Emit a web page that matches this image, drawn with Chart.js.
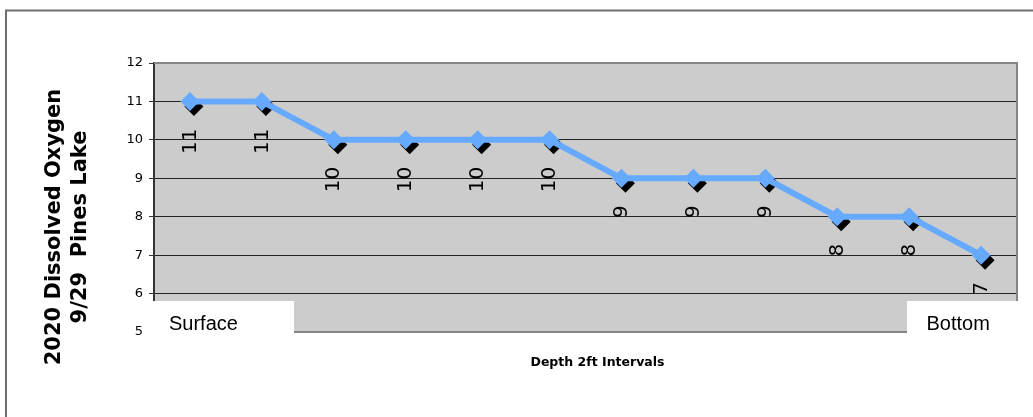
<!DOCTYPE html>
<html>
<head>
<meta charset="utf-8">
<script src="https://cdn.jsdelivr.net/npm/chart.js@4/dist/chart.umd.min.js"></script>
<style>
  html, body { margin: 0; padding: 0; background: #ffffff; }
  #wrap { position: relative; width: 1033px; height: 417px; }
</style>
</head>
<body>
<div id="wrap"><canvas id="chart"></canvas></div>
<script>
// Depth readings taken every 2 ft, from the surface down to the bottom
const depthFt = ['0', '2', '4', '6', '8', '10', '12', '14', '16', '18', '20', '22'];
// Dissolved oxygen at each depth
const oxygen = [11, 11, 10, 10, 10, 10, 9, 9, 9, 8, 8, 7];
// Value axis ticks
const yTicks = [5, 6, 7, 8, 9, 10, 11, 12];

const titleLines = ['2020 Dissolved Oxygen', '9/29  Pines Lake'];
const xTitle = 'Depth 2ft Intervals';
const endLabels = ['Surface', 'Bottom'];

const LINE_BLUE = '#66AAFF';
const PLOT_GRAY = '#CCCCCC';

// Black drop shadow under the diamond markers
const markerShadow = {
  id: 'markerShadow',
  beforeDatasetDraw(chart, args) {
    if (args.index !== 1) return;
    const ctx = chart.ctx;
    ctx.save();
    ctx.shadowColor = '#000000';
    ctx.shadowOffsetX = 4;
    ctx.shadowOffsetY = 5;
    ctx.shadowBlur = 0;
  },
  afterDatasetDraw(chart, args) {
    if (args.index !== 1) return;
    chart.ctx.restore();
  }
};

// Gray plot background
const plotBackground = {
  id: 'plotBackground',
  beforeDraw(chart) {
    const { ctx, chartArea: a } = chart;
    ctx.save();
    ctx.fillStyle = PLOT_GRAY;
    ctx.fillRect(a.left, a.top, a.right - a.left, a.bottom - a.top);
    ctx.restore();
  }
};

// Value labels, rotated, hanging under each marker
const valueLabels = {
  id: 'valueLabels',
  afterDatasetsDraw(chart) {
    const ctx = chart.ctx;
    const meta = chart.getDatasetMeta(1);
    const values = chart.data.datasets[1].data;
    ctx.save();
    ctx.font = '20px "DejaVu Sans", Verdana, sans-serif';
    ctx.fillStyle = '#000000';
    ctx.textAlign = 'right';
    ctx.textBaseline = 'middle';
    meta.data.forEach((pt, i) => {
      ctx.save();
      ctx.translate(pt.x + 0.5, pt.y + 27);
      ctx.rotate(-Math.PI / 2);
      ctx.fillText(String(values[i]), 0, 0);
      ctx.restore();
    });
    ctx.restore();
  }
};

// Plot frame, outer frame, end boxes and titles
const frameAndTitles = {
  id: 'frameAndTitles',
  afterDraw(chart) {
    const { ctx, chartArea: a } = chart;
    ctx.save();

    // plot frame (top, right, bottom)
    ctx.strokeStyle = '#858585';
    ctx.lineWidth = 2;
    ctx.beginPath();
    ctx.moveTo(a.left, a.top);
    ctx.lineTo(a.right, a.top);
    ctx.lineTo(a.right, a.bottom);
    ctx.lineTo(a.left, a.bottom);
    ctx.stroke();

    // outer chart frame
    ctx.strokeStyle = '#6e6e6e';
    ctx.lineWidth = 2;
    ctx.strokeRect(6, 10.5, 1200, 600);

    // Surface / Bottom boxes
    ctx.fillStyle = '#ffffff';
    ctx.fillRect(146, 301, 148, 40);
    ctx.fillRect(907, 301, 120, 40);
    ctx.fillStyle = '#000000';
    ctx.font = '20px "Liberation Sans", Arial, sans-serif';
    ctx.textAlign = 'left';
    ctx.textBaseline = 'alphabetic';
    ctx.fillText(endLabels[0], 169, 330);
    ctx.fillText(endLabels[1], 926.5, 330);

    // value axis title (two lines, rotated)
    ctx.font = 'bold 21px "DejaVu Sans", Verdana, sans-serif';
    ctx.textAlign = 'center';
    ctx.textBaseline = 'middle';
    const cx = [55, 81];
    titleLines.forEach((t, i) => {
      ctx.save();
      ctx.translate(cx[i], 227);
      ctx.rotate(-Math.PI / 2);
      ctx.fillText(t, 0, 0);
      ctx.restore();
    });

    // category axis title
    ctx.font = 'bold 12.5px "DejaVu Sans", Verdana, sans-serif';
    ctx.fillText(xTitle, 597.5, 363);

    ctx.restore();
  }
};

new Chart(document.getElementById('chart'), {
  type: 'line',
  data: {
    labels: depthFt,
    datasets: [
      {
        label: 'line',
        data: oxygen,
        borderColor: LINE_BLUE,
        borderWidth: 6,
        pointRadius: 0,
        tension: 0,
        fill: false,
        order: 0
      },
      {
        label: 'markers',
        data: oxygen,
        showLine: false,
        pointStyle: 'rectRot',
        pointRadius: 9.5,
        pointBackgroundColor: LINE_BLUE,
        pointBorderColor: LINE_BLUE,
        pointBorderWidth: 0,
        order: 1
      }
    ]
  },
  options: {
    responsive: true,
    maintainAspectRatio: false,
    animation: false,
    events: [],
    layout: { padding: { left: 0, top: 63, right: 16, bottom: 85 } },
    plugins: {
      legend: { display: false },
      tooltip: { enabled: false }
    },
    scales: {
      x: {
        display: false,
        offset: true
      },
      y: {
        min: 5,
        max: 12,
        afterFit(scale) { scale.width = 154; },
        afterBuildTicks(scale) { scale.ticks = yTicks.map(v => ({ value: v })); },
        ticks: {
          padding: 6,
          color: '#000000',
          font: { family: '"DejaVu Sans", Verdana, sans-serif', size: 13 }
        },
        grid: {
          color: ctx => (ctx.tick && (ctx.tick.value === 5 || ctx.tick.value === 12)) ? 'rgba(0,0,0,0)' : '#222222',
          lineWidth: 1,
          tickLength: 5,
          tickColor: '#333333'
        },
        border: { display: true, color: '#333333', width: 2 }
      }
    }
  },
  plugins: [plotBackground, markerShadow, valueLabels, frameAndTitles]
});
</script>
</body>
</html>
